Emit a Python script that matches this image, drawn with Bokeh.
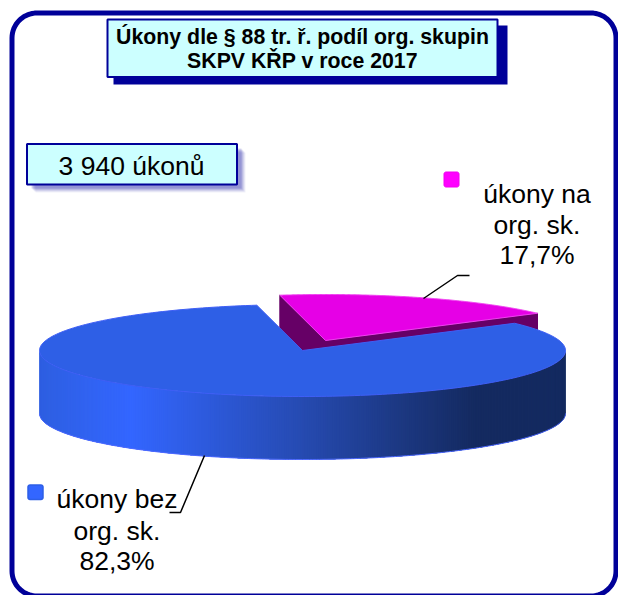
import math
from bokeh.plotting import figure
from bokeh.models import Range1d
from bokeh.embed import file_html
from bokeh.resources import INLINE
from bokeh.core.properties import value

# --- data ---
categories = ["úkony bez org. sk.", "úkony na org. sk."]
shares = [82.3, 17.7]
share_labels = ["82,3%", "17,7%"]
label_lines_blue = ["úkony bez", "org. sk.", "82,3%"]
label_lines_magenta = ["úkony na", "org. sk.", "17,7%"]
title_lines = ["Úkony dle § 88 tr. ř. podíl org. skupin", "SKPV KŘP v roce 2017"]
count_label = "3 940 úkonů"

# --- layout / style ---
W, H = 618, 595
NAVY = "#000099"
BOX = "#CCFFFF"
FONT = value("Liberation Sans")
CX, CY, RX, RY, DEPTH = 302, 350, 263, 46, 63
EXPLODE = (23, -10)
START_ANGLE = 100.0
BLUE_TOP, BLUE_EDGE = "#2E5FE6", "#3F5FF5"
MAGENTA, MAGENTA_EDGE, PURPLE = "#E600E6", "#F040F0", "#660066"
GRAD = [(39, (46, 95, 225)), (130, (51, 102, 255)), (300, (38, 75, 178)),
        (400, (28, 56, 130)), (475, (20, 42, 96)), (565, (20, 42, 96))]

p = figure(width=W, height=H, output_backend="svg", toolbar_location=None,
           x_range=Range1d(0, W), y_range=Range1d(H, 0), min_border=0,
           background_fill_color="white", border_fill_color="white")
p.axis.visible = False
p.grid.visible = False
p.outline_line_color = None


def ell(a, cx=CX, cy=CY):
    r = math.radians(a)
    return cx + RX * math.cos(r), cy - RY * math.sin(r)


def arc(a0, a1, cx=CX, cy=CY, n=240):
    pts = [ell(a0 + (a1 - a0) * i / n, cx, cy) for i in range(n + 1)]
    return [q[0] for q in pts], [q[1] for q in pts]


def grad_color(x):
    for (x0, c0), (x1, c1) in zip(GRAD, GRAD[1:]):
        if x <= x1:
            t = max(0, (x - x0) / (x1 - x0))
            return "#%02x%02x%02x" % tuple(round(a + (b - a) * t) for a, b in zip(c0, c1))
    return "#%02x%02x%02x" % GRAD[-1][1]


def rrect(x0, y0, x1, y1, r, n=16):
    xs, ys = [], []
    for cx, cy, a0 in ((x1 - r, y0 + r, 270), (x1 - r, y1 - r, 0), (x0 + r, y1 - r, 90), (x0 + r, y0 + r, 180)):
        for i in range(n + 1):
            a = math.radians(a0 + 90 * i / n)
            xs.append(cx + r * math.cos(a))
            ys.append(cy + r * math.sin(a))
    return xs, ys


# frame
fx, fy = rrect(11.5, 12.5, 615.5, 595.5, 25)
p.patch(fx, fy, fill_color="white", line_color=NAVY, line_width=5)

# pie angles from values
blue_share, mag_share = shares
mag_span = 360 * mag_share / sum(shares)
a_left, a_right = START_ANGLE, START_ANGLE - mag_span
mx, my = CX + EXPLODE[0], CY + EXPLODE[1]

# magenta slice (exploded, behind the blue one)
lx, ly = ell(a_left, mx, my)
rx_, ry_ = ell(a_right, mx, my)
p.patch([lx, mx, mx, lx], [ly, my, my + DEPTH, ly + DEPTH], fill_color=PURPLE, line_color=PURPLE)
p.patch([mx, rx_, rx_, mx], [my, ry_, ry_ + DEPTH, my + DEPTH], fill_color=PURPLE, line_color=PURPLE)
ax, ay = arc(a_left, a_right, mx, my)
p.patch([mx] + ax, [my] + ay, fill_color=MAGENTA, line_color=MAGENTA_EDGE, line_width=1)

# blue wall with horizontal gradient: each strip overlaps the next one, so no seams show
xs, ys, cols = [], [], []
steps = 360
for i in range(steps):
    a0 = 180 + 180 * i / steps
    a1 = min(360, a0 + 180 * 4 / steps)
    tx, ty = arc(a0, a1, n=4)
    xs.append(tx + tx[::-1])
    ys.append(ty + [y + DEPTH for y in ty[::-1]])
    cols.append(grad_color(ell(a0 + 90 / steps)[0]))
p.patches(xs, ys, fill_color=cols, line_color=None)
bx, by = arc(180, 360)
p.line(bx, [y + DEPTH for y in by], line_color="#4F6BFF", line_width=1)

# blue top
ax, ay = arc(a_right, a_left - 360)
p.patch([CX] + ax, [CY] + ay, fill_color=BLUE_TOP, line_color=BLUE_EDGE, line_width=1)

# leader lines
p.line([423, 457, 469], [298, 275, 275], line_color="black", line_width=1.5)
p.line([204, 180, 169], [455, 512, 512], line_color="black", line_width=1.5)

# title box
p.quad(left=[113], right=[507], top=[25], bottom=[84], fill_color=NAVY, line_color=None)
p.quad(left=[107], right=[497], top=[19], bottom=[76.5], fill_color=BOX, line_color=NAVY, line_width=2)
p.text([302, 302], [36, 60], text=title_lines, text_font=FONT, text_font_style="bold",
       text_font_size="21.3px", text_align="center", text_baseline="middle", text_color="black")

# count box
for off, al in ((8, 0.06), (7, 0.08), (6, 0.10), (5, 0.12), (4, 0.14)):
    p.quad(left=[27 + off], right=[237 + off], top=[144 + off], bottom=[184 + off],
           fill_color=NAVY, fill_alpha=al, line_color=None)
p.quad(left=[26.5], right=[236.5], top=[143.5], bottom=[184], fill_color=BOX, line_color=NAVY, line_width=2)
p.text([131], [165], text=[count_label], text_font=FONT, text_font_size="26.5px",
       text_align="center", text_baseline="middle", text_color="black")

# legend keys
kx, ky = rrect(443.5, 171.5, 458.5, 186.5, 2, n=4)
p.patch(kx, ky, fill_color="#FF00FF", line_color="#F000F0", line_width=1)
kx, ky = rrect(27.5, 484.5, 42.5, 499, 2, n=4)
p.patch(kx, ky, fill_color="#3366FF", line_color="#2E5FE6", line_width=1.5)

# labels
p.text([536.5] * 3, [193, 224, 254], text=label_lines_magenta, text_font=FONT, text_font_size="26.5px",
       text_align="center", text_baseline="middle", text_color="black")
p.text([116.5] * 3, [498, 530, 560], text=label_lines_blue, text_font=FONT, text_font_size="26.5px",
       text_align="center", text_baseline="middle", text_color="black")

open("out.html", "w").write(file_html(p, INLINE))
